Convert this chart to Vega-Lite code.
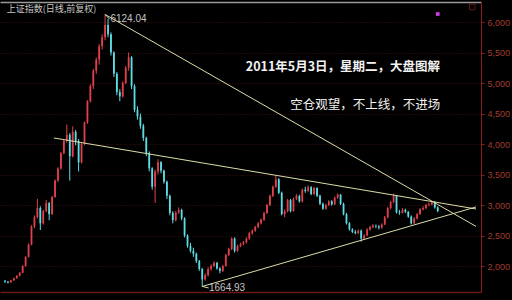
{
  "$schema": "https://vega.github.io/schema/vega-lite/v6.json",
  "width": 481,
  "height": 290,
  "autosize": "none",
  "padding": {"left": 0, "top": 2, "right": 31, "bottom": 8},
  "background": "#000000",
  "config": {"view": {"stroke": null}},
  "datasets": {
    "k": [
      {"i":0,"o":1760,"h":1770,"l":1725,"c":1740},{"i":1,"o":1740,"h":1755,"l":1715,"c":1730},{"i":2,"o":1730,"h":1775,"l":1725,"c":1765},{"i":3,"o":1765,"h":1810,"l":1755,"c":1800},
      {"i":4,"o":1800,"h":1850,"l":1790,"c":1840},{"i":5,"o":1840,"h":1900,"l":1830,"c":1890},{"i":6,"o":1890,"h":2010,"l":1880,"c":2000},{"i":7,"o":2000,"h":2160,"l":1990,"c":2150},
      {"i":8,"o":2150,"h":2370,"l":2140,"c":2350},{"i":9,"o":2350,"h":2670,"l":2340,"c":2650},{"i":10,"o":2650,"h":2830,"l":2620,"c":2800},{"i":11,"o":2800,"h":3100,"l":2780,"c":2950},
      {"i":12,"o":2950,"h":2980,"l":2590,"c":2700},{"i":13,"o":2700,"h":2920,"l":2680,"c":2900},{"i":14,"o":2900,"h":3080,"l":2880,"c":3030},{"i":15,"o":3030,"h":3050,"l":2750,"c":2850},
      {"i":16,"o":2850,"h":3150,"l":2840,"c":3130},{"i":17,"o":3130,"h":3420,"l":3120,"c":3400},{"i":18,"o":3400,"h":3620,"l":3380,"c":3600},{"i":19,"o":3600,"h":3870,"l":3580,"c":3850},
      {"i":20,"o":3850,"h":4080,"l":3830,"c":4050},{"i":21,"o":4050,"h":4320,"l":4020,"c":4150},{"i":22,"o":4150,"h":4180,"l":3400,"c":3800},{"i":23,"o":3800,"h":4290,"l":3780,"c":4200},
      {"i":24,"o":4200,"h":4230,"l":3980,"c":4050},{"i":25,"o":4050,"h":4080,"l":3550,"c":3700},{"i":26,"o":3700,"h":4020,"l":3680,"c":4000},{"i":27,"o":4000,"h":4370,"l":3980,"c":4350},
      {"i":28,"o":4350,"h":4720,"l":4330,"c":4700},{"i":29,"o":4700,"h":4980,"l":4680,"c":4950},{"i":30,"o":4950,"h":5230,"l":4900,"c":5200},{"i":31,"o":5200,"h":5420,"l":5150,"c":5380},
      {"i":32,"o":5380,"h":5640,"l":5300,"c":5600},{"i":33,"o":5600,"h":5800,"l":5550,"c":5750},{"i":34,"o":5750,"h":6124.04,"l":5700,"c":5950},{"i":35,"o":5950,"h":6050,"l":5750,"c":5800},
      {"i":36,"o":5800,"h":5830,"l":5450,"c":5500},{"i":37,"o":5500,"h":5520,"l":5100,"c":5150},{"i":38,"o":5150,"h":5180,"l":4800,"c":4850},{"i":39,"o":4850,"h":4900,"l":4700,"c":4780},
      {"i":40,"o":4780,"h":5030,"l":4760,"c":5000},{"i":41,"o":5000,"h":5280,"l":4980,"c":5250},{"i":42,"o":5250,"h":5500,"l":5200,"c":5420},{"i":43,"o":5420,"h":5440,"l":4900,"c":4950},
      {"i":44,"o":4950,"h":4980,"l":4520,"c":4560},{"i":45,"o":4560,"h":4620,"l":4400,"c":4450},{"i":46,"o":4450,"h":4500,"l":4250,"c":4300},{"i":47,"o":4300,"h":4330,"l":4050,"c":4100},
      {"i":48,"o":4100,"h":4120,"l":3800,"c":3850},{"i":49,"o":3850,"h":3880,"l":3550,"c":3600},{"i":50,"o":3600,"h":3620,"l":3250,"c":3300},{"i":51,"o":3300,"h":3580,"l":3033,"c":3550},
      {"i":52,"o":3550,"h":3750,"l":3500,"c":3700},{"i":53,"o":3700,"h":3720,"l":3520,"c":3560},{"i":54,"o":3560,"h":3580,"l":3350,"c":3380},{"i":55,"o":3380,"h":3400,"l":3100,"c":3150},
      {"i":56,"o":3150,"h":3170,"l":2830,"c":2870},{"i":57,"o":2870,"h":2900,"l":2700,"c":2750},{"i":58,"o":2750,"h":2900,"l":2730,"c":2880},{"i":59,"o":2880,"h":2960,"l":2850,"c":2920},
      {"i":60,"o":2920,"h":2940,"l":2750,"c":2780},{"i":61,"o":2780,"h":2800,"l":2470,"c":2500},{"i":62,"o":2500,"h":2520,"l":2300,"c":2330},{"i":63,"o":2330,"h":2380,"l":2220,"c":2250},
      {"i":64,"o":2250,"h":2300,"l":2150,"c":2200},{"i":65,"o":2200,"h":2220,"l":2050,"c":2080},{"i":66,"o":2080,"h":2100,"l":1920,"c":1950},{"i":67,"o":1950,"h":1970,"l":1664.93,"c":1780},
      {"i":68,"o":1780,"h":1880,"l":1760,"c":1850},{"i":69,"o":1850,"h":1980,"l":1830,"c":1950},{"i":70,"o":1950,"h":2030,"l":1920,"c":2000},{"i":71,"o":2000,"h":2080,"l":1980,"c":2050},
      {"i":72,"o":2050,"h":2070,"l":1940,"c":1960},{"i":73,"o":1960,"h":1980,"l":1880,"c":1920},{"i":74,"o":1920,"h":2020,"l":1900,"c":2000},{"i":75,"o":2000,"h":2200,"l":1990,"c":2180},
      {"i":76,"o":2180,"h":2300,"l":2160,"c":2280},{"i":77,"o":2280,"h":2470,"l":2260,"c":2450},{"i":78,"o":2450,"h":2470,"l":2220,"c":2250},{"i":79,"o":2250,"h":2350,"l":2230,"c":2330},
      {"i":80,"o":2330,"h":2380,"l":2310,"c":2360},{"i":81,"o":2360,"h":2410,"l":2340,"c":2390},{"i":82,"o":2390,"h":2470,"l":2370,"c":2450},{"i":83,"o":2450,"h":2560,"l":2430,"c":2540},
      {"i":84,"o":2540,"h":2600,"l":2510,"c":2580},{"i":85,"o":2580,"h":2660,"l":2560,"c":2640},{"i":86,"o":2640,"h":2720,"l":2620,"c":2700},{"i":87,"o":2700,"h":2780,"l":2680,"c":2760},
      {"i":88,"o":2760,"h":2890,"l":2740,"c":2870},{"i":89,"o":2870,"h":3020,"l":2850,"c":3000},{"i":90,"o":3000,"h":3170,"l":2980,"c":3150},{"i":91,"o":3150,"h":3320,"l":3130,"c":3300},
      {"i":92,"o":3300,"h":3478,"l":3280,"c":3420},{"i":93,"o":3420,"h":3440,"l":3180,"c":3200},{"i":94,"o":3200,"h":3220,"l":2830,"c":2850},{"i":95,"o":2850,"h":2930,"l":2800,"c":2900},
      {"i":96,"o":2900,"h":3100,"l":2880,"c":3080},{"i":97,"o":3080,"h":3100,"l":2880,"c":2900},{"i":98,"o":2900,"h":3120,"l":2890,"c":3100},{"i":99,"o":3100,"h":3180,"l":3080,"c":3150},
      {"i":100,"o":3150,"h":3170,"l":3040,"c":3060},{"i":101,"o":3060,"h":3270,"l":3040,"c":3250},{"i":102,"o":3250,"h":3300,"l":3200,"c":3230},{"i":103,"o":3230,"h":3320,"l":3210,"c":3290},
      {"i":104,"o":3290,"h":3310,"l":3160,"c":3180},{"i":105,"o":3180,"h":3300,"l":3160,"c":3280},{"i":106,"o":3280,"h":3290,"l":3130,"c":3150},{"i":107,"o":3150,"h":3170,"l":3000,"c":3020},
      {"i":108,"o":3020,"h":3040,"l":2920,"c":2940},{"i":109,"o":2940,"h":3020,"l":2920,"c":3000},{"i":110,"o":3000,"h":3080,"l":2980,"c":3060},{"i":111,"o":3060,"h":3080,"l":2990,"c":3010},
      {"i":112,"o":3010,"h":3140,"l":3000,"c":3120},{"i":113,"o":3120,"h":3190,"l":3100,"c":3170},{"i":114,"o":3170,"h":3180,"l":3000,"c":3020},{"i":115,"o":3020,"h":3040,"l":2830,"c":2850},
      {"i":116,"o":2850,"h":2870,"l":2680,"c":2700},{"i":117,"o":2700,"h":2720,"l":2580,"c":2600},{"i":118,"o":2600,"h":2620,"l":2540,"c":2560},{"i":119,"o":2560,"h":2590,"l":2520,"c":2540},
      {"i":120,"o":2540,"h":2600,"l":2520,"c":2580},{"i":121,"o":2580,"h":2600,"l":2400,"c":2450},{"i":122,"o":2450,"h":2520,"l":2430,"c":2500},{"i":123,"o":2500,"h":2620,"l":2490,"c":2600},
      {"i":124,"o":2600,"h":2660,"l":2580,"c":2640},{"i":125,"o":2640,"h":2690,"l":2620,"c":2660},{"i":126,"o":2660,"h":2680,"l":2620,"c":2650},{"i":127,"o":2650,"h":2670,"l":2600,"c":2630},
      {"i":128,"o":2630,"h":2700,"l":2610,"c":2680},{"i":129,"o":2680,"h":2820,"l":2670,"c":2800},{"i":130,"o":2800,"h":2970,"l":2780,"c":2950},{"i":131,"o":2950,"h":3070,"l":2930,"c":3050},
      {"i":132,"o":3050,"h":3186,"l":3030,"c":3150},{"i":133,"o":3150,"h":3160,"l":2860,"c":2880},{"i":134,"o":2880,"h":2920,"l":2840,"c":2870},{"i":135,"o":2870,"h":2950,"l":2860,"c":2920},
      {"i":136,"o":2920,"h":2940,"l":2870,"c":2890},{"i":137,"o":2890,"h":2900,"l":2790,"c":2810},{"i":138,"o":2810,"h":2830,"l":2680,"c":2700},{"i":139,"o":2700,"h":2800,"l":2690,"c":2780},
      {"i":140,"o":2780,"h":2870,"l":2760,"c":2850},{"i":141,"o":2850,"h":2950,"l":2840,"c":2930},{"i":142,"o":2930,"h":2980,"l":2910,"c":2950},{"i":143,"o":2950,"h":3020,"l":2930,"c":3000},
      {"i":144,"o":3000,"h":3040,"l":2980,"c":3010},{"i":145,"o":3010,"h":3067,"l":2990,"c":3050},{"i":146,"o":3050,"h":3060,"l":2940,"c":2960},{"i":147,"o":2960,"h":2980,"l":2880,"c":2900}
    ],
    "trend": [
      {"line":"peak","i":34,"v":6124.04},{"line":"peak","i":160,"v":2650},
      {"line":"upper","i":16.6,"v":4099},{"line":"upper","i":160,"v":2935},
      {"line":"lower","i":67,"v":1664.93},{"line":"lower","i":160,"v":2968},
      {"line":"tagHigh","i":34,"v":6124.04},{"line":"tagHigh","i":35.6,"v":6045},
      {"line":"tagLow","i":67,"v":1664.93},{"line":"tagLow","i":69.2,"v":1640}
    ],
    "notes": [
      {"k":"title","i":0.6,"v":6215,"t":"上证指数(日线,前复权)"},
      {"k":"tag","i":35.8,"v":6050,"t":"6124.04"},
      {"k":"tag","i":69.3,"v":1640,"t":"1664.93"},
      {"k":"big","i":114.8,"v":5262,"t":"2011年5月3日，星期二，大盘图解"},
      {"k":"big2","i":122.4,"v":4640,"t":"空仓观望，不上线，不进场"}
    ],
    "icons": [
      {"k":"mark","i":147,"v":6131},
      {"k":"box","i":158.7,"v":6246}
    ]
  },
  "layer": [
    {
      "data": {"name": "k"},
      "mark": {"type": "rule", "strokeWidth": 1},
      "encoding": {
        "x": {"field": "i", "type": "quantitative", "scale": {"domain": [0, 160], "nice": false, "zero": false},
              "axis": {"orient": "bottom", "domainColor": "#6e1818", "domainWidth": 1.5, "ticks": false, "labels": false, "grid": false, "title": null}},
        "y": {"field": "l", "type": "quantitative", "scale": {"domain": [1574, 6328], "nice": false, "zero": false},
              "axis": {"orient": "right", "values": [2000, 2500, 3000, 3500, 4000, 4500, 5000, 5500, 6000], "title": null,
                       "labelOverlap": false, "labelBound": false, "labelFlush": false,
                       "domainColor": "#8a1e1e", "tickColor": "#8a1e1e", "tickSize": 3, "labelColor": "#a33c2e",
                       "labelFont": "Liberation Sans", "labelFontSize": 9, "labelPadding": 3,
                       "grid": true, "gridColor": "#3e1010", "gridDash": [1, 2], "gridWidth": 1}},
        "y2": {"field": "h"},
        "color": {"condition": {"test": "datum.c >= datum.o", "value": "#e0404c"}, "value": "#5cdce4"}
      }
    },
    {
      "data": {"name": "k"},
      "mark": {"type": "bar", "width": 1.8},
      "encoding": {
        "x": {"field": "i", "type": "quantitative", "axis": null},
        "y": {"field": "o", "type": "quantitative", "axis": null},
        "y2": {"field": "c"},
        "color": {"condition": {"test": "datum.c >= datum.o", "value": "#e0404c"}, "value": "#5cdce4"}
      }
    },
    {
      "data": {"name": "trend"},
      "mark": {"type": "line", "color": "#dcdca8", "strokeWidth": 1},
      "encoding": {
        "x": {"field": "i", "type": "quantitative",
              "axis": {"orient": "top", "domainColor": "#9a9a9a", "domainWidth": 1.5, "ticks": false, "labels": false, "grid": false, "title": null}},
        "y": {"field": "v", "type": "quantitative", "axis": null},
        "detail": {"field": "line"}
      }
    },
    {
      "data": {"name": "notes"},
      "transform": [{"filter": "datum.k == 'title'"}],
      "mark": {"type": "text", "align": "left", "baseline": "middle", "font": "Noto Sans CJK SC", "fontSize": 9, "color": "#c8c8c8"},
      "encoding": {"x": {"field": "i", "type": "quantitative", "axis": null}, "y": {"field": "v", "type": "quantitative", "axis": null}, "text": {"field": "t"}}
    },
    {
      "data": {"name": "notes"},
      "transform": [{"filter": "datum.k == 'tag'"}],
      "mark": {"type": "text", "align": "left", "baseline": "middle", "font": "Liberation Sans", "fontSize": 10, "color": "#c4c4c4"},
      "encoding": {"x": {"field": "i", "type": "quantitative", "axis": null}, "y": {"field": "v", "type": "quantitative", "axis": null}, "text": {"field": "t"}}
    },
    {
      "data": {"name": "notes"},
      "transform": [{"filter": "datum.k == 'big'"}],
      "mark": {"type": "text", "align": "center", "baseline": "middle", "font": "Noto Sans CJK SC", "fontSize": 12.5, "fontWeight": "bold", "color": "#f2f2f2"},
      "encoding": {"x": {"field": "i", "type": "quantitative", "axis": null}, "y": {"field": "v", "type": "quantitative", "axis": null}, "text": {"field": "t"}}
    },
    {
      "data": {"name": "notes"},
      "transform": [{"filter": "datum.k == 'big2'"}],
      "mark": {"type": "text", "align": "center", "baseline": "middle", "font": "Noto Sans CJK SC", "fontSize": 12.5, "fontWeight": "normal", "color": "#f2f2f2"},
      "encoding": {"x": {"field": "i", "type": "quantitative", "axis": null}, "y": {"field": "v", "type": "quantitative", "axis": null}, "text": {"field": "t"}}
    },
    {
      "data": {"name": "icons"},
      "transform": [{"filter": "datum.k == 'mark'"}],
      "mark": {"type": "square", "size": 14, "color": "#c83ce8", "opacity": 1},
      "encoding": {"x": {"field": "i", "type": "quantitative", "axis": null}, "y": {"field": "v", "type": "quantitative", "axis": null}}
    },
    {
      "data": {"name": "icons"},
      "transform": [{"filter": "datum.k == 'box'"}],
      "mark": {"type": "square", "size": 30, "filled": false, "stroke": "#8a2424", "strokeWidth": 1},
      "encoding": {"x": {"field": "i", "type": "quantitative", "axis": null}, "y": {"field": "v", "type": "quantitative", "axis": null}}
    }
  ],
  "resolve": {"axis": {"x": "independent", "y": "independent"}}
}
